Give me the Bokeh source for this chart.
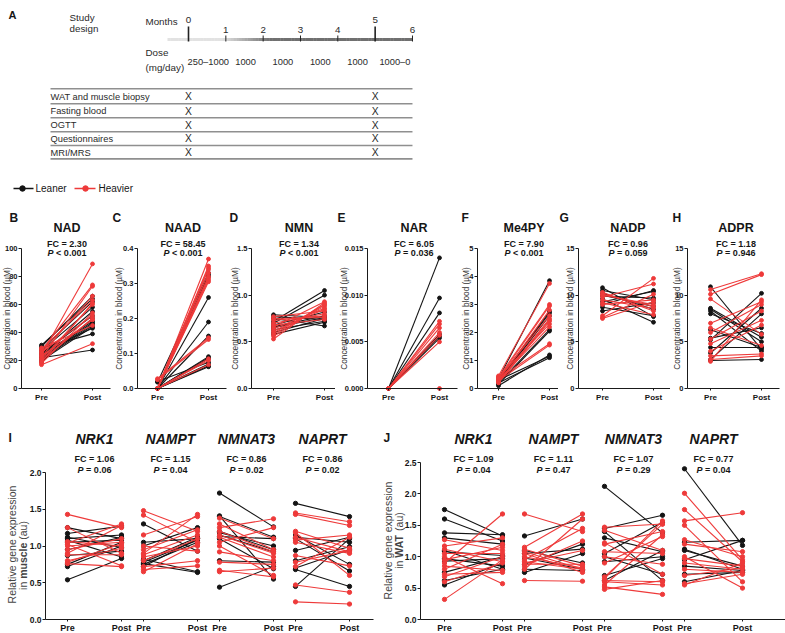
import math
import numpy as np
from bokeh.plotting import figure
from bokeh.models import Range1d, Label, FixedTicker, LinearAxis, PrintfTickFormatter
from bokeh.layouts import column, row
from bokeh.embed import file_html
from bokeh.resources import INLINE
from bokeh.core.properties import value

FONT = "Liberation Sans"
BLACK = "#141414"
RED = "#ee3a3a"
TXT = "#161616"

# ---------------- data ----------------
MONTH_TICKS = [0, 1, 2, 3, 4, 5, 6]
MAJOR_MONTHS = [0, 5]
DOSE_LABELS = ["250–1000", "1000", "1000", "1000", "1000", "1000–0"]
MEASUREMENTS = ["WAT and muscle biopsy", "Fasting blood", "OGTT", "Questionnaires", "MRI/MRS"]
VISIT_MONTHS = [0, 5]
GROUPS = ["Leaner", "Heavier"]

BLOOD_NAMES = ["NAD", "NAAD", "NMN", "NAR", "Me4PY", "NADP", "ADPR"]
BLOOD_LETTERS = ["B", "C", "D", "E", "F", "G", "H"]
BLOOD_FC = ["2.30", "58.45", "1.34", "6.05", "7.90", "0.96", "1.18"]
BLOOD_P = ["< 0.001", "< 0.001", "< 0.001", "= 0.036", "< 0.001", "= 0.059", "= 0.946"]
BLOOD_TICKS = [[0, 20, 40, 60, 80, 100], [0, 0.1, 0.2, 0.3, 0.4], [0, 0.5, 1.0, 1.5],
               [0, 0.005, 0.010, 0.015], [0, 1, 2, 3, 4, 5], [0, 5, 10, 15], [0, 5, 10, 15]]
BLOOD_TICK_FMT = ["%d", "%.1f", "%.1f", "%.3f", "%d", "%d", "%d"]
TIME_LABELS = ["Pre", "Post"]

NAD_LEANER = [(30, 66), (31, 64), (28, 62), (27, 58), (25, 52), (24, 48), (22, 46), (21, 45), (20, 44),
              (23, 47), (26, 43), (29, 39), (22, 27.5), (19, 50), (24, 55)]
NAD_HEAVIER = [(24, 89), (27, 74), (22, 73), (25, 66), (28, 63), (21, 60), (18, 54), (26, 52), (20, 50),
               (23, 49), (17, 32), (29, 45), (19, 61)]
NAAD_LEANER = [(0.018, 0.33), (0, 0.325), (0, 0.32), (0, 0.26), (0.001, 0.19), (0, 0.15), (0, 0.091),
               (0, 0.088), (0, 0.085), (0.02, 0.075), (0, 0.07), (0, 0.065), (0, 0.062)]
NAAD_HEAVIER = [(0, 0.37), (0, 0.35), (0, 0.345), (0, 0.34), (0, 0.33), (0, 0.32), (0, 0.315), (0, 0.31),
                (0, 0.305), (0.028, 0.145), (0.025, 0.14), (0, 0.085), (0, 0.08), (0, 0.068)]
NMN_LEANER = [(0.79, 0.76), (0.77, 0.74), (0.72, 1.05), (0.70, 1.00), (0.66, 0.78), (0.63, 0.72),
              (0.60, 0.75), (0.58, 0.71), (0.75, 0.67), (0.68, 0.82), (0.65, 0.76)]
NMN_HEAVIER = [(0.53, 0.92), (0.56, 0.90), (0.60, 0.88), (0.62, 0.85), (0.66, 0.93), (0.70, 0.80),
               (0.73, 0.78), (0.75, 0.76), (0.77, 0.83), (0.64, 0.86), (0.68, 0.74), (0.58, 0.90)]
NAR_LEANER = [(0, 0.014), (0, 0.0097), (0, 0.0081), (0, 0.0058), (0, 0.0056), (0, 0.0054)]
NAR_HEAVIER = [(0, 0.0072), (0, 0.0069), (0, 0.0065), (0, 0.0060), (0, 0.0057), (0, 0.0050), (0, 0.0)]
ME4PY_LEANER = [(0.35, 3.85), (0.30, 2.75), (0.25, 2.70), (0.20, 2.10), (0.15, 2.05), (0.10, 1.20),
                (0.30, 1.15), (0.20, 1.10), (0.25, 2.60)]
ME4PY_HEAVIER = [(0.45, 3.75), (0.40, 3.00), (0.35, 2.95), (0.30, 2.80), (0.25, 2.45), (0.20, 2.40),
                 (0.40, 2.30), (0.30, 2.20), (0.35, 1.60), (0.28, 1.55), (0.38, 2.60), (0.22, 2.50)]
NADP_LEANER = [(10.8, 7.7), (10.5, 9.5), (10.2, 8.5), (9.9, 9.7), (9.6, 7.1), (9.3, 10.4), (9.0, 10.5),
               (8.7, 7.8), (8.3, 9.2), (10.0, 8.8)]
NADP_HEAVIER = [(10.3, 8.3), (10.0, 9.0), (9.8, 11.2), (7.8, 11.8), (7.6, 10.1), (7.5, 9.3), (9.5, 8.6),
                (9.2, 7.9), (10.1, 8.8), (9.0, 9.5)]
ADPR_LEANER = [(10.9, 4.2), (8.6, 5.5), (8.5, 5.0), (8.3, 4.0), (8.0, 5.9), (6.3, 4.4), (5.4, 6.5),
               (5.2, 10.2), (4.4, 4.4), (3.8, 8.6), (3.1, 8.0), (3.0, 3.1)]
ADPR_HEAVIER = [(10.6, 12.3), (10.1, 12.2), (9.6, 5.8), (7.0, 9.3), (6.5, 4.6), (6.0, 9.0), (5.3, 8.3),
                (4.8, 7.3), (4.0, 6.8), (3.5, 3.7), (3.1, 3.5), (2.9, 9.5)]
BLOOD_DATA = [(NAD_LEANER, NAD_HEAVIER), (NAAD_LEANER, NAAD_HEAVIER), (NMN_LEANER, NMN_HEAVIER),
              (NAR_LEANER, NAR_HEAVIER), (ME4PY_LEANER, ME4PY_HEAVIER), (NADP_LEANER, NADP_HEAVIER),
              (ADPR_LEANER, ADPR_HEAVIER)]

GENES = ["NRK1", "NAMPT", "NMNAT3", "NAPRT"]
MUSCLE_FC = ["1.06", "1.15", "0.86", "0.86"]
MUSCLE_P = ["0.06", "0.04", "0.02", "0.02"]
WAT_FC = ["1.09", "1.11", "1.07", "0.77"]
WAT_P = ["0.04", "0.47", "0.29", "0.04"]
MUSCLE_TICKS = [0, 0.5, 1.0, 1.5, 2.0]
WAT_TICKS = [0, 0.5, 1.0, 1.5, 2.0, 2.5]

MUSCLE_NRK1_LEANER = [(1.25, 1.10), (1.17, 1.27), (1.12, 0.98), (1.10, 1.15), (1.08, 0.85), (1.05, 1.08),
                      (0.95, 1.12), (0.87, 0.93), (0.75, 1.05), (0.72, 1.00), (0.54, 0.83)]
MUSCLE_NRK1_HEAVIER = [(1.43, 1.25), (1.25, 0.90), (1.04, 1.30), (1.02, 0.73), (1.00, 1.05), (0.90, 1.28),
                       (0.88, 0.88), (0.80, 0.97), (0.78, 1.03), (0.76, 0.72), (1.06, 1.00), (0.95, 1.10)]
MUSCLE_NAMPT_LEANER = [(1.30, 0.93), (1.05, 1.10), (1.00, 1.25), (0.80, 1.12), (0.78, 1.08), (0.76, 0.64),
                       (0.75, 1.05), (0.82, 0.65), (0.72, 1.10)]
MUSCLE_NAMPT_HEAVIER = [(1.48, 1.20), (1.42, 1.05), (1.15, 1.40), (0.90, 1.43), (0.88, 1.15), (0.85, 1.00),
                        (0.72, 0.80), (0.68, 0.73), (0.65, 1.03), (0.95, 1.22), (0.80, 1.10), (1.00, 0.93)]
MUSCLE_NMNAT3_LEANER = [(1.72, 1.26), (1.41, 0.55), (1.40, 1.12), (1.18, 1.00), (1.15, 0.92), (1.10, 0.69),
                        (0.80, 0.78), (0.44, 0.72), (1.13, 1.10), (1.20, 0.95)]
MUSCLE_NMNAT3_HEAVIER = [(1.38, 1.10), (1.30, 0.95), (1.25, 1.37), (1.15, 0.90), (1.12, 0.85), (1.05, 1.25),
                         (1.00, 0.60), (0.92, 0.80), (0.78, 0.75), (0.67, 0.58), (0.65, 0.70), (1.20, 0.92)]
MUSCLE_NAPRT_LEANER = [(1.58, 1.40), (1.15, 0.75), (1.12, 1.05), (1.10, 0.66), (0.94, 1.12), (0.80, 0.99),
                       (0.70, 0.95), (0.68, 0.45), (0.45, 1.10)]
MUSCLE_NAPRT_HEAVIER = [(1.45, 1.33), (1.43, 1.28), (1.20, 0.97), (1.18, 0.60), (1.08, 1.15), (1.05, 0.90),
                        (0.87, 0.73), (0.78, 0.94), (0.72, 1.12), (0.47, 0.37), (0.24, 0.21), (1.12, 0.92)]
WAT_NRK1_LEANER = [(1.75, 1.33), (1.60, 1.25), (1.38, 1.35), (1.30, 1.20), (1.10, 0.80), (1.08, 1.02),
                   (0.97, 0.85), (0.93, 0.97), (0.75, 1.00), (0.55, 0.90), (0.62, 0.80)]
WAT_NRK1_HEAVIER = [(1.27, 1.10), (1.17, 1.30), (1.12, 0.92), (1.05, 1.05), (0.90, 1.68), (0.85, 0.78),
                    (0.80, 1.20), (0.72, 0.75), (0.68, 1.00), (0.60, 0.90), (0.32, 0.95), (1.00, 0.57),
                    (0.95, 1.15)]
WAT_NAMPT_LEANER = [(1.33, 1.60), (1.10, 0.90), (1.05, 1.12), (0.88, 1.20), (0.80, 0.78), (0.75, 1.05),
                    (0.98, 0.80)]
WAT_NAMPT_HEAVIER = [(1.68, 1.40), (1.15, 1.68), (1.12, 0.85), (1.00, 0.82), (0.95, 1.45), (0.92, 0.80),
                     (0.90, 1.10), (0.85, 1.25), (0.62, 0.61), (1.05, 0.75), (0.80, 1.60), (0.88, 0.88),
                     (1.08, 0.80)]
WAT_NMNAT3_LEANER = [(2.12, 1.38), (1.45, 1.66), (1.40, 0.62), (1.30, 1.08), (1.05, 1.55), (0.92, 1.00),
                     (0.70, 0.97), (1.00, 0.72), (0.62, 1.10)]
WAT_NMNAT3_HEAVIER = [(1.47, 1.52), (1.22, 0.72), (1.20, 1.40), (1.08, 1.05), (1.00, 0.88), (0.90, 1.32),
                      (0.65, 1.57), (0.62, 0.60), (0.60, 0.55), (0.55, 1.35), (0.52, 0.40), (0.48, 0.62),
                      (1.42, 1.10), (0.68, 1.52)]
WAT_NAPRT_LEANER = [(2.40, 1.18), (1.23, 1.26), (1.12, 0.80), (1.10, 0.85), (0.85, 0.78), (0.72, 0.75),
                    (0.60, 0.78), (0.95, 1.26)]
WAT_NAPRT_HEAVIER = [(2.01, 0.95), (1.75, 0.92), (1.57, 1.70), (1.50, 0.60), (1.27, 1.00), (1.00, 0.50),
                     (0.97, 0.85), (0.80, 0.75), (0.70, 0.82), (0.57, 0.72), (0.55, 0.90), (1.20, 1.08),
                     (0.90, 0.80)]
MUSCLE_DATA = [(MUSCLE_NRK1_LEANER, MUSCLE_NRK1_HEAVIER), (MUSCLE_NAMPT_LEANER, MUSCLE_NAMPT_HEAVIER),
               (MUSCLE_NMNAT3_LEANER, MUSCLE_NMNAT3_HEAVIER), (MUSCLE_NAPRT_LEANER, MUSCLE_NAPRT_HEAVIER)]
WAT_DATA = [(WAT_NRK1_LEANER, WAT_NRK1_HEAVIER), (WAT_NAMPT_LEANER, WAT_NAMPT_HEAVIER),
            (WAT_NMNAT3_LEANER, WAT_NMNAT3_HEAVIER), (WAT_NAPRT_LEANER, WAT_NAPRT_HEAVIER)]

# ---------------- helpers ----------------
W_REG = {' ': .278, '.': .278, '=': .584, '<': .584, '(': .333, ')': .333, 'F': .611, 'C': .722,
         'P': .667, 'W': .944, 'A': .667, 'T': .611, 'a': .556, 'u': .556, 'i': .222, 'n': .556,
         'm': .833, 's': .5, 'c': .5, 'l': .222, 'e': .556}
W_BOLD = {' ': .278, '.': .278, '=': .584, '<': .584, '(': .333, ')': .333, 'F': .611, 'C': .722,
          'P': .667, 'W': .944, 'A': .722, 'T': .611, 'a': .556, 'u': .611, 'i': .278, 'n': .611,
          'm': .889, 's': .556, 'c': .556, 'l': .278, 'e': .556}


def tw(s, size, bold):
    t = W_BOLD if bold else W_REG
    return sum(t.get(ch, .556) for ch in s) * size


def lab(p, x, y, text, size, style="normal", color=TXT, align="center", baseline="middle",
        angle=0.0, font=FONT):
    p.add_layout(Label(x=x, y=y, text=text, text_font=font, text_font_size=f"{size}px",
                       text_font_style=style, text_color=color, text_align=align,
                       text_baseline=baseline, angle=angle))


def rich(p, cx, cyy, segs, size, scale, color=TXT, vertical=False):
    widths = [tw(s, size, "bold" in st) for s, st in segs]
    total = sum(widths)
    start = (cyy if vertical else cx) - total / 2.0 / scale
    off = 0.0
    for (s, st), w in zip(segs, widths):
        lead = len(s) - len(s.lstrip(" "))
        core = s.strip(" ")
        pos = start + (off + tw(" " * lead, size, "bold" in st)) / scale
        if core:
            if vertical:
                lab(p, cx, pos, core, size, st, color=color, align="left", angle=math.pi / 2)
            else:
                lab(p, pos, cyy, core, size, st, color=color, align="left")
        off += w


def style_axis(ax, label_size, tick_out=3, standoff=1):
    ax.axis_line_color = "#1a1a1a"
    ax.axis_line_width = 1
    ax.major_tick_line_color = "#1a1a1a"
    ax.major_tick_out = tick_out
    ax.major_tick_in = 0
    ax.minor_tick_out = 0
    ax.minor_tick_in = 0
    ax.major_label_text_font = FONT
    ax.major_label_text_font_style = "bold"
    ax.major_label_text_font_size = f"{label_size}px"
    ax.major_label_text_color = TXT
    ax.major_label_standoff = standoff


def draw_pairs(p, xp, xq, pairs, color, size):
    xs = [[xp, xq] for _ in pairs]
    ys = [[a, b] for a, b in pairs]
    p.multi_line(xs, ys, line_color=color, line_width=1.1)
    p.scatter([xp] * len(pairs) + [xq] * len(pairs), [a for a, b in pairs] + [b for a, b in pairs],
              size=size, fill_color=color, line_color=color)


def base_fig(w, h, xr, yr):
    p = figure(width=w, height=h, x_range=xr, y_range=yr, x_axis_type=None, y_axis_type=None,
               toolbar_location=None, output_backend="svg", title=None, min_border=0)
    p.grid.visible = False
    p.outline_line_color = None
    return p


# ---------------- panel A ----------------
TOTAL_W = 785
HA = 200


def mx(rx):
    return (rx - 188.0) / 37.33


pA = base_fig(TOTAL_W, HA, Range1d(mx(0), mx(TOTAL_W)), Range1d(HA, 0))


def ta(x, y, t, size=9, style="normal", align="left", color="#2a2a2a"):
    pA.text([x], [y], text=[t], text_font=value(FONT), text_font_size=f"{size}px",
            text_font_style=style, text_align=align, text_baseline="middle", text_color=color)


ta(mx(8), 14, "A", 11, "bold", color=TXT)
ta(mx(69), 16.5, "Study", 9.8)
ta(mx(69), 28, "design", 9.8)
ta(mx(145), 21, "Months", 9.8)
ta(mx(145), 51.5, "Dose", 9.8)
ta(mx(145), 67, "(mg/day)", 9.8)

edges = np.linspace(mx(167), MONTH_TICKS[-1], 90)
mids = (edges[:-1] + edges[1:]) / 2
cols = []
for m in mids:
    t = min(max((m - 0.9) / 1.3, 0.0), 1.0)
    g = int(226 - t * (226 - 112))
    cols.append("#%02x%02x%02x" % (g, g, g))
pA.segment(x0=edges[:-1], x1=edges[1:] + 0.01, y0=[39] * len(mids), y1=[39] * len(mids),
           line_color=cols, line_width=3.2, line_cap="butt")

for m in MONTH_TICKS:
    major = m in MAJOR_MONTHS
    pA.segment(x0=[m], x1=[m], y0=[26 if major else 35], y1=[41],
               line_color="#222222", line_width=1.6 if major else 1.0)
    ta(m, 19.5 if major else 29.5, str(m), 9.8, align="center")

for i, d in enumerate(DOSE_LABELS):
    ta(i + 0.53, 61, d, 9.3, align="center")

line_ys = [88.3, 103.2, 117.2, 131.2, 145.0, 158.4]
pA.segment(x0=[mx(50)] * len(line_ys), x1=[MONTH_TICKS[-1]] * len(line_ys),
           y0=line_ys, y1=line_ys, line_color="#8f8f8f", line_width=1.6)
for i, name in enumerate(MEASUREMENTS):
    yc = (line_ys[i] + line_ys[i + 1]) / 2 + 0.3
    ta(mx(50), yc, name, 9.3)
    for vm in VISIT_MONTHS:
        ta(vm, yc, "X", 10.3, align="center")

ly = 188
for gname, col, x_a, x_b, x_d, x_t in [(GROUPS[0], BLACK, 13, 33, 22, 35), (GROUPS[1], RED, 74, 95, 85, 98)]:
    pA.segment(x0=[mx(x_a)], x1=[mx(x_b)], y0=[ly], y1=[ly], line_color=col, line_width=1.6)
    pA.scatter([mx(x_d)], [ly], size=5.5, fill_color=col, line_color=col)
    ta(mx(x_t), ly, gname, 10, color=TXT)

# ---------------- row 1 : blood metabolites ----------------
ROW1_LEFT = [0, 111, 228, 335, 458, 558, 670]
ROW1_RIGHT = ROW1_LEFT[1:] + [TOTAL_W]
AXIS_X = [21, 137, 251, 367, 477, 578, 687]
PRE_X = [41, 157, 273, 388, 498, 602, 710]
LETTER_X = [9, 112, 229, 337, 461, 559, 672]
YLAB_X = [6, 118, 234, 343, 465, 569, 676]
T1, H1 = HA, 205
Z1, TOP1 = 388.0, 248.0

row1 = []
for i in range(7):
    L, R = ROW1_LEFT[i], ROW1_RIGHT[i]
    W = R - L
    pre = PRE_X[i]
    sx = 51.0
    x0 = (L - pre) / sx
    x1 = x0 + W / sx
    xa = (AXIS_X[i] - pre) / sx
    ticks = BLOOD_TICKS[i]
    top = ticks[-1]
    k = (Z1 - TOP1) / top
    y1 = (Z1 - T1) / k
    y0 = (Z1 - (T1 + H1)) / k
    p = base_fig(W, H1, Range1d(x0, x1), Range1d(y0, y1))

    yax = LinearAxis(ticker=FixedTicker(ticks=ticks), formatter=PrintfTickFormatter(format=BLOOD_TICK_FMT[i]),
                     bounds=(0, top), fixed_location=xa)
    style_axis(yax, 7.5, 3, 1)
    p.add_layout(yax, "left")
    xax = LinearAxis(ticker=FixedTicker(ticks=[0, 1]), major_label_overrides={0: TIME_LABELS[0], 1: TIME_LABELS[1]},
                     bounds=(xa, min(1.36, x1)), fixed_location=0)
    style_axis(xax, 8, 2, 2)
    p.add_layout(xax, "below")

    lean, heavy = BLOOD_DATA[i]
    draw_pairs(p, 0, 1, lean, BLACK, 3.8)
    draw_pairs(p, 0, 1, heavy, RED, 3.8)

    def yv(ry, k=k):
        return (Z1 - ry) / k

    lab(p, 0.5, yv(227.5), BLOOD_NAMES[i], 12.5, "bold")
    lab(p, 0.5, yv(243), f"FC = {BLOOD_FC[i]}", 9, "bold")
    rich(p, 0.5, yv(252.5), [("P", "bold italic"), (" " + BLOOD_P[i], "bold")], 9, sx)
    lab(p, (LETTER_X[i] - pre) / sx, yv(217), BLOOD_LETTERS[i], 12, "bold", align="left")
    lab(p, (YLAB_X[i] - pre) / sx, top * 0.5, "Concentration in blood (µM)", 8.3, color="#333333",
        angle=math.pi / 2)
    row1.append(p)

# ---------------- row 2 : gene expression ----------------
T2 = T1 + H1
H2 = 633 - T2
Z2 = 619.0


def gene_panel(L, W, axis_x, pre0_x, top_y, ticks, pitch, gap, data, fcs, ps, letter, letter_x,
               tissue, ylab1_x, ylab1_y, ylab2_x, ylab2_y, xaxis_end):
    x0 = L - pre0_x
    x1 = x0 + W
    xa = axis_x - pre0_x
    top = ticks[-1]
    k = (Z2 - top_y) / top
    y1 = (Z2 - T2) / k
    y0 = (Z2 - (T2 + H2)) / k
    p = base_fig(W, H2, Range1d(x0, x1), Range1d(y0, y1))
    yax = LinearAxis(ticker=FixedTicker(ticks=ticks), formatter=PrintfTickFormatter(format="%.1f"),
                     bounds=(0, top), fixed_location=xa)
    style_axis(yax, 8.5, 3, 1)
    p.add_layout(yax, "left")
    tk, ov = [], {}
    for g in range(len(GENES)):
        a, b = g * pitch, g * pitch + gap
        tk += [a, b]
        ov[a] = TIME_LABELS[0]
        ov[b] = TIME_LABELS[1]
    xax = LinearAxis(ticker=FixedTicker(ticks=tk), major_label_overrides=ov,
                     bounds=(xa, min(xaxis_end, x1)), fixed_location=0)
    style_axis(xax, 9, 2, 1)
    p.add_layout(xax, "below")

    def yv(ry):
        return (Z2 - ry) / k

    for g in range(len(GENES)):
        a, b = g * pitch, g * pitch + gap
        lean, heavy = data[g]
        draw_pairs(p, a, b, lean, BLACK, 4.3)
        draw_pairs(p, a, b, heavy, RED, 4.3)
        cxx = a + gap / 2.0
        lab(p, cxx, yv(438), GENES[g], 14, "bold italic")
        lab(p, cxx, yv(458), f"FC = {fcs[g]}", 9, "bold")
        rich(p, cxx, yv(469), [("P", "bold italic"), (" = " + ps[g], "bold")], 9, 1.0)
    lab(p, letter_x - pre0_x, yv(437), letter, 12, "bold", align="left")
    lab(p, ylab1_x - pre0_x, yv(ylab1_y), "Relative gene expression", 10.5, color="#444444",
        angle=math.pi / 2)
    rich(p, ylab2_x - pre0_x, yv(ylab2_y), [("in ", "normal"), (tissue, "bold"), (" (au)", "normal")],
         10.5, k, color="#444444", vertical=True)
    return p


pI = gene_panel(0, 378, 45, 67, 472, MUSCLE_TICKS, 76, 54, MUSCLE_DATA, MUSCLE_FC, MUSCLE_P,
                "I", 8, "muscle", 11, 544, 22, 555, 306)
pJ = gene_panel(378, TOTAL_W - 378, 420, 444, 462, WAT_TICKS, 80, 58, WAT_DATA, WAT_FC, WAT_P,
                "J", 383, "WAT", 387, 540, 398, 540, 1000)

layout = column(pA, row(*row1), row(pI, pJ))
open("out.html", "w").write(file_html(layout, INLINE))
